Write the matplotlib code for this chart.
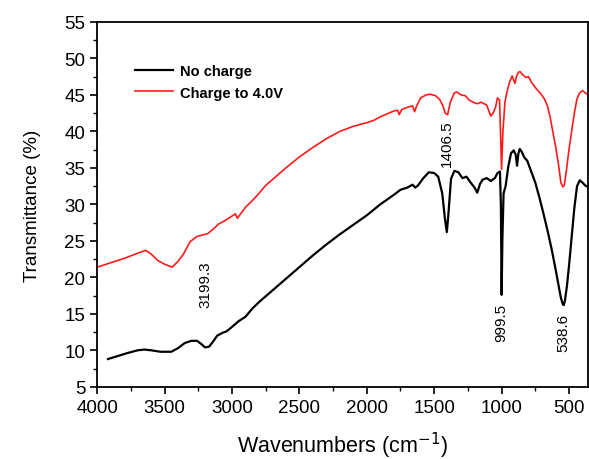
import matplotlib
matplotlib.use("Agg")
import matplotlib.pyplot as plt
from matplotlib.ticker import MultipleLocator

plt.rcParams["font.family"] = ["Liberation Sans", "DejaVu Sans"]

# IR spectrum, no charge (black)
wn_black = [3920, 3850, 3780, 3700, 3650, 3600, 3530, 3450, 3400, 3350, 3300, 3260,
            3230, 3200, 3170, 3140, 3110, 3070, 3040, 3000, 2950, 2900, 2850, 2800,
            2750, 2700, 2600, 2500, 2400, 2300, 2200, 2100, 2000, 1900, 1800, 1750,
            1700, 1660, 1640, 1620, 1580, 1540, 1500, 1470, 1440, 1420, 1406, 1395,
            1375, 1350, 1320, 1290, 1260, 1230, 1200, 1180, 1160, 1140, 1110, 1080,
            1050, 1030, 1012, 1005, 999.5, 994, 985, 970, 950, 930, 910, 895, 885,
            875, 865, 850, 830, 810, 790, 770, 750, 720, 690, 660, 630, 600, 580,
            560, 545, 538.6, 530, 515, 500, 480, 460, 440, 420, 400, 380, 360]
t_black = [8.8, 9.2, 9.6, 10.0, 10.1, 10.0, 9.8, 9.8, 10.3, 11.0, 11.3, 11.3,
           10.9, 10.4, 10.5, 11.2, 12.0, 12.4, 12.6, 13.2, 14.0, 14.6, 15.7, 16.6,
           17.4, 18.2, 19.8, 21.4, 23.0, 24.5, 25.9, 27.2, 28.5, 30.0, 31.3, 32.0,
           32.3, 32.7, 32.3, 32.6, 33.6, 34.4, 34.3, 33.8, 31.5, 28.0, 26.2, 28.5,
           33.5, 34.6, 34.4, 33.6, 33.8, 33.0, 32.3, 31.6, 32.8, 33.4, 33.6, 33.2,
           33.6, 34.3, 34.5, 30.0, 17.6, 25.0, 31.5, 32.5, 35.2, 37.0, 37.4, 36.8,
           35.3, 37.0, 37.6, 37.2, 36.4, 36.0, 35.0, 34.0, 33.0, 31.0, 28.8, 26.5,
           24.0, 21.2, 19.2, 17.2, 16.3, 16.2, 16.8, 18.8, 21.5, 25.5, 29.5, 32.5,
           33.3, 33.0, 32.6, 32.4]

# IR spectrum, charged to 4.0 V (red)
wn_red = [4000, 3900, 3800, 3700, 3640, 3600, 3550, 3500, 3444, 3400, 3360, 3310,
          3260, 3220, 3180, 3140, 3100, 3050, 3000, 2975, 2960, 2940, 2900, 2850,
          2800, 2750, 2700, 2600, 2500, 2400, 2300, 2200, 2100, 2000, 1950, 1900,
          1850, 1800, 1770, 1760, 1740, 1700, 1660, 1645, 1630, 1600, 1560, 1530,
          1490, 1460, 1435, 1418, 1400, 1380, 1350, 1330, 1300, 1270, 1240, 1210,
          1180, 1150, 1130, 1110, 1090, 1080, 1060, 1045, 1030, 1015, 1008, 1000,
          990, 975, 960, 940, 921, 910, 900, 890, 875, 862, 845, 820, 800, 780,
          760, 740, 710, 680, 660, 640, 620, 600, 580, 560, 545, 535, 520, 500,
          480, 460, 440, 420, 400, 380, 360]
t_red = [21.4, 22.0, 22.6, 23.3, 23.7, 23.2, 22.3, 21.8, 21.4, 22.2, 23.2, 24.9,
         25.6, 25.8, 26.0, 26.6, 27.3, 27.8, 28.4, 28.7, 28.1, 28.6, 29.6, 30.5,
         31.5, 32.6, 33.4, 35.0, 36.5, 37.8, 39.0, 40.0, 40.7, 41.2, 41.5, 42.0,
         42.4, 42.8, 42.9, 42.3, 43.0, 43.3, 43.5, 42.7, 43.5, 44.6, 45.0, 45.1,
         44.9, 44.4, 43.5, 42.5, 42.3, 44.0, 45.3, 45.4, 45.0, 44.9, 44.3, 44.0,
         43.8, 44.0, 43.8, 43.6, 42.6, 42.1, 42.6, 43.3, 44.6, 44.3, 40.0, 34.8,
         40.0, 44.0, 45.4, 46.8, 47.6, 47.0, 46.6, 47.5, 48.1, 48.2, 47.8, 47.4,
         47.5, 46.8, 46.3, 45.8, 45.2, 44.4, 43.5, 42.0, 40.0, 38.0, 35.8, 33.0,
         32.4, 32.6, 34.5, 37.5, 40.0, 42.5, 44.5, 45.3, 45.6, 45.3, 45.0]

peak_labels = ["3199.3", "1406.5", "999.5", "538.6"]
peak_x = [3199.3, 1406.5, 999.5, 538.6]
peak_y = [19.1, 38.5, 13.9, 12.5]

fig = plt.figure(figsize=(5.89, 4.60), dpi=100)
ax = fig.add_axes([0.165, 0.157, 0.833, 0.793])

ax.plot(wn_black, t_black, color="black", lw=1.6, label="No charge")
ax.plot(wn_red, t_red, color="#ff1a1a", lw=1.2, label="Charge to 4.0V")

for lab, px, py in zip(peak_labels, peak_x, peak_y):
    ax.text(px, py, lab, rotation=90, ha="center", va="center", fontsize=11,
            weight="medium")

ax.set_xlim(4000, 360)
ax.set_ylim(5, 55)
ax.xaxis.set_major_locator(MultipleLocator(500))
ax.xaxis.set_minor_locator(MultipleLocator(250))
ax.yaxis.set_major_locator(MultipleLocator(5))
ax.yaxis.set_minor_locator(MultipleLocator(2.5))
ax.tick_params(which="major", direction="out", length=5, width=1.2, labelsize=13.5)
ax.tick_params(which="minor", direction="out", length=3, width=1.0)
for s in ax.spines.values():
    s.set_linewidth(1.3)

ax.set_xlabel(r"Wavenumbers (cm$^{-1}$)", fontsize=15.5, labelpad=10)
ax.set_ylabel("Transmittance (%)", fontsize=13.5, labelpad=17)

ax.legend(loc="upper left", bbox_to_anchor=(0.05, 0.92), frameon=False,
          prop={"weight": "bold", "size": 10.5}, handlelength=2.6,
          handletextpad=0.5, labelspacing=0.5)

fig.savefig("out.png", dpi=100)
